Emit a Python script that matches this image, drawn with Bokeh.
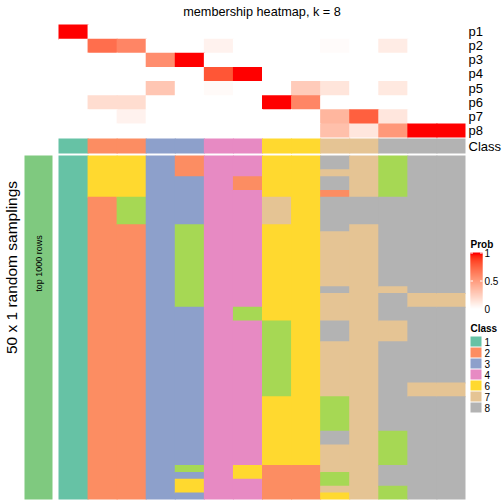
import numpy as np
from bokeh.plotting import figure
from bokeh.models import Range1d, ColumnDataSource, LinearColorMapper
from bokeh.transform import transform
from bokeh.core.properties import value
from bokeh.embed import file_html
from bokeh.resources import INLINE

# ---------------- data ----------------
prob_names = ["p1", "p2", "p3", "p4", "p5", "p6", "p7", "p8"]
p1 = [1.00, 0.00, 0.00, 0.00, 0.00, 0.00, 0.00, 0.00, 0.00, 0.00, 0.00, 0.00, 0.00, 0.00]
p2 = [0.00, 0.72, 0.62, 0.00, 0.00, 0.07, 0.00, 0.00, 0.00, 0.02, 0.00, 0.10, 0.00, 0.00]
p3 = [0.00, 0.00, 0.00, 0.58, 1.00, 0.00, 0.00, 0.00, 0.00, 0.00, 0.00, 0.00, 0.00, 0.00]
p4 = [0.00, 0.00, 0.00, 0.00, 0.00, 0.82, 1.00, 0.00, 0.00, 0.00, 0.00, 0.00, 0.00, 0.00]
p5 = [0.00, 0.00, 0.00, 0.30, 0.00, 0.03, 0.00, 0.00, 0.27, 0.14, 0.00, 0.12, 0.00, 0.00]
p6 = [0.00, 0.18, 0.18, 0.00, 0.00, 0.00, 0.00, 1.00, 0.62, 0.00, 0.00, 0.00, 0.00, 0.00]
p7 = [0.00, 0.00, 0.07, 0.00, 0.00, 0.00, 0.00, 0.00, 0.00, 0.38, 0.78, 0.13, 0.00, 0.00]
p8 = [0.00, 0.00, 0.00, 0.00, 0.00, 0.00, 0.00, 0.00, 0.00, 0.33, 0.13, 0.53, 1.00, 1.00]
prob_values = [p1, p2, p3, p4, p5, p6, p7, p8]

class_row = ["1", "2", "2", "3", "3", "4", "4", "6", "6", "7", "7", "8", "8", "8"]

# class of each sample (column) in each of the 50 samplings (rows, top to bottom)
s01 = "1111111111 1111111111 1111111111 1111111111 1111111111"
s02 = "6666662222 2222222222 2222222222 2222222222 2222222222"
s03 = "6666665555 2222222222 2222222222 2222222222 2222222222"
s04 = "3333333333 3333333333 3333333333 3333333333 3333333333"
s05 = "2223333333 5555555555 5533333333 3333333333 3333353663"
s06 = "4444444444 4444444444 4444444444 4444444444 4444444444"
s07 = "4442244444 4444444444 4455444444 4444444444 4444466444"
s08 = "6666667777 6666666666 6666555555 5555566666 6666622222"
s09 = "6666666666 6666666666 6666666666 6666666666 6666622222"
s10 = "8878828888 8777777778 7777888777 7777755555 8877775576"
s11 = "7777778888 7777777777 7777777777 7777777777 7777777777"
s12 = "5555558888 8888888887 8888777888 8888888888 5555588855"
s13 = "8888888888 8888888888 7788888888 8887788888 8888888888"
s14 = "8888888888 8888888888 7788888888 8887788888 8888888888"
sampling_cols = [s01, s02, s03, s04, s05, s06, s07, s08, s09, s10, s11, s12, s13, s14]

legend_classes = ["1", "2", "3", "4", "6", "7", "8"]
class_colors = {"1": "#66C2A5", "2": "#FC8D62", "3": "#8DA0CB", "4": "#E78AC3",
                "5": "#A6D854", "6": "#FFD92F", "7": "#E5C494", "8": "#B3B3B3"}
prob_ticks = [0, 0.5, 1]
prob_tick_labels = ["0", "0.5", "1"]

# ---------------- colours ----------------
def lab_to_hex(L, a, b):
    fy = (L + 16) / 116.0
    fx = fy + a / 500.0
    fz = fy - b / 200.0
    def finv(t):
        return t ** 3 if t > 6 / 29 else 3 * (6 / 29) ** 2 * (t - 4 / 29)
    X, Y, Z = 0.95047 * finv(fx), finv(fy), 1.08883 * finv(fz)
    r = 3.2406 * X - 1.5372 * Y - 0.4986 * Z
    g = -0.9689 * X + 1.8758 * Y + 0.0415 * Z
    bb = 0.0557 * X - 0.2040 * Y + 1.0570 * Z
    out = []
    for c in (r, g, bb):
        c = 12.92 * c if c <= 0.0031308 else 1.055 * c ** (1 / 2.4) - 0.055
        out.append(int(round(min(max(c, 0), 1) * 255)))
    return "#%02x%02x%02x" % tuple(out)

W_LAB = (100.0, 0.0, 0.0)
R_LAB = (53.24, 80.09, 67.20)
palette = [lab_to_hex(*[w + (r - w) * t for w, r in zip(W_LAB, R_LAB)])
           for t in np.linspace(0, 1, 256)]
mapper = LinearColorMapper(palette=palette, low=0, high=1)

# ---------------- layout (page pixel units) ----------------
X0, X1 = 58.0, 465.0
n_s = len(class_row)
xb = np.linspace(X0, X1, n_s + 1)                     # column edges
OV = 1.0                                              # overlap that hides seams
xr = [xb[j + 1] + (OV if j < n_s - 1 else 0) for j in range(n_s)]
PY0, PY1 = 24.0, 137.0
yb_p = np.linspace(PY0, PY1, len(prob_names) + 1)
CLS_Y0, CLS_Y1 = 138.0, 153.0
MY0, MY1 = 155.0, 499.0
FONT = "Liberation Sans"

p = figure(width=504, height=504, x_range=Range1d(0, 504), y_range=Range1d(504, 0),
           output_backend="svg", toolbar_location=None, min_border=0,
           x_axis_location=None, y_axis_location=None, outline_line_color=None)
p.grid.visible = False
p.background_fill_color = "white"
p.border_fill_color = "white"

# membership heatmap
n_p = len(prob_names)
L, R, T, B, V = [], [], [], [], []
for i, row in enumerate(prob_values):
    for j, v in enumerate(row):
        L.append(xb[j]); R.append(xr[j])
        T.append(yb_p[i]); B.append(yb_p[i + 1] + (OV if i < n_p - 1 else 0)); V.append(v)
src = ColumnDataSource(dict(left=L, right=R, top=T, bottom=B, v=V))
p.quad(left="left", right="right", top="top", bottom="bottom", source=src,
       fill_color=transform("v", mapper), line_color=None)

# class annotation row
src = ColumnDataSource(dict(left=list(xb[:-1]), right=xr,
                            c=[class_colors[c] for c in class_row]))
p.quad(left="left", right="right", top=CLS_Y0, bottom=CLS_Y1, source=src,
       fill_color="c", line_color=None)

# sampling heatmap (consecutive equal cells of a column drawn as one block)
cols = [s.replace(" ", "") for s in sampling_cols]
n_r = len(cols[0])
yb = np.linspace(MY0, MY1, n_r + 1)
L, R, T, B, C = [], [], [], [], []
for j, col in enumerate(cols):
    start = 0
    for i in range(1, n_r + 1):
        if i == n_r or col[i] != col[start]:
            L.append(xb[j]); R.append(xr[j])
            T.append(yb[start]); B.append(yb[i] + (OV if i < n_r else 0))
            C.append(class_colors[col[start]])
            start = i
src = ColumnDataSource(dict(left=L, right=R, top=T, bottom=B, c=C))
p.quad(left="left", right="right", top="top", bottom="bottom", source=src,
       fill_color="c", line_color=None)

# left annotation bar
p.quad(left=[24], right=[52], top=[MY0], bottom=[MY1], fill_color="#7FC97F", line_color=None)

# texts
p.text(x=[261.5], y=[11], text=["membership heatmap, k = 8"], text_font=value(FONT),
       text_font_size="12.7px", text_align="center", text_baseline="middle", text_color="black")
p.text(x=[468] * n_p, y=[(yb_p[i] + yb_p[i + 1]) / 2 for i in range(n_p)],
       text=prob_names, text_font=value(FONT), text_font_size="13px",
       text_align="left", text_baseline="middle", text_color="black")
p.text(x=[468], y=[(CLS_Y0 + CLS_Y1) / 2], text=["Class"], text_font=value(FONT),
       text_font_size="13px", text_align="left", text_baseline="middle", text_color="black")
p.text(x=[11], y=[267], text=["50 x 1 random samplings"], angle=np.pi / 2,
       text_font=value(FONT), text_font_size="15.5px", text_align="center",
       text_baseline="middle", text_color="black")
p.text(x=[38], y=[263], text=["top 1000 rows"], angle=np.pi / 2,
       text_font=value(FONT), text_font_size="9px", text_align="center",
       text_baseline="middle", text_color="black")

# Prob legend
LGX0, LGX1 = 470.0, 482.0
GB_TOP, GB_BOT = 252.0, 308.0
n_lev = int(GB_BOT - GB_TOP)
levels = np.linspace(0, 1, n_lev)
src = ColumnDataSource(dict(top=[GB_BOT - (k + 1) for k in range(n_lev)],
                            bottom=[min(GB_BOT - k + OV, GB_BOT) for k in range(n_lev)],
                            v=list(levels)))
p.quad(left=LGX0, right=LGX1, top="top", bottom="bottom", source=src,
       fill_color=transform("v", mapper), line_color=None)
tick_y = [GB_BOT - t * (GB_BOT - GB_TOP) for t in prob_ticks]
for ty, t in zip(tick_y, prob_ticks):
    if t > 0:
        p.segment(x0=[LGX0], y0=[ty + 0.5], x1=[LGX0 + 2.5], y1=[ty + 0.5], line_color="white", line_width=1)
        p.segment(x0=[LGX1 - 2.5], y0=[ty + 0.5], x1=[LGX1], y1=[ty + 0.5], line_color="white", line_width=1)
p.text(x=[484] * 3, y=tick_y, text=prob_tick_labels, text_font=value(FONT),
       text_font_size="10px", text_align="left", text_baseline="middle", text_color="black")
p.text(x=[470], y=[243.5], text=["Prob"], text_font=value(FONT), text_font_size="10px",
       text_font_style="bold", text_align="left", text_baseline="middle", text_color="black")

# Class legend
p.text(x=[470], y=[328], text=["Class"], text_font=value(FONT), text_font_size="10px",
       text_font_style="bold", text_align="left", text_baseline="middle", text_color="black")
IT0, ITH = 336.0, 11.0
src = ColumnDataSource(dict(top=[IT0 + k * ITH for k in range(len(legend_classes))],
                            bottom=[IT0 + k * ITH + 10 for k in range(len(legend_classes))],
                            c=[class_colors[c] for c in legend_classes]))
p.quad(left=470, right=481, top="top", bottom="bottom", source=src, fill_color="c", line_color=None)
p.text(x=[484] * len(legend_classes), y=[IT0 + k * ITH + 5 for k in range(len(legend_classes))],
       text=legend_classes, text_font=value(FONT), text_font_size="10px",
       text_align="left", text_baseline="middle", text_color="black")

open("out.html", "w").write(file_html(p, INLINE))
